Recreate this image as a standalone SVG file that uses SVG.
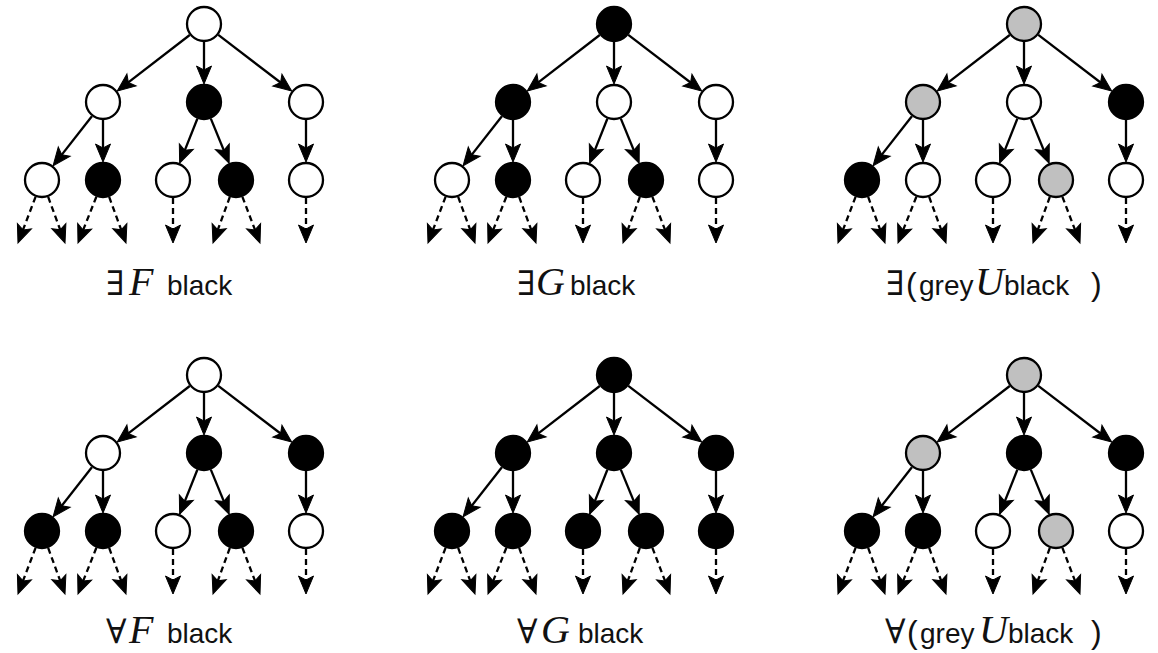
<svg xmlns="http://www.w3.org/2000/svg" xmlns:xlink="http://www.w3.org/1999/xlink" width="1158" height="653" viewBox="0 0 1158 653">
  <style>
    .node { stroke: #000; stroke-width: 2.3; }
    .w { fill: #fff; }
    .b { fill: #000; }
    .g { fill: #c0c0c0; }
    .solid { stroke: #000; stroke-width: 2.3; fill: none; marker-end: url(#head); }
    .dash { stroke: #000; stroke-width: 2.3; fill: none; stroke-dasharray: 6 4; marker-end: url(#head); }
    .q { font-family: "DejaVu Serif", "Liberation Serif", serif; font-size: 34px; }
    .m { font-family: "Liberation Serif", serif; font-style: italic; font-size: 40px; }
    .t { font-family: "Liberation Sans", Arial, sans-serif; font-size: 28px; }
    .p { font-family: "Liberation Sans", Arial, sans-serif; font-size: 32px; }
    .lbl { fill: #111; }
  </style>
  <defs>
    <marker id="head" markerUnits="userSpaceOnUse" viewBox="-22 -11 26 22" markerWidth="26" markerHeight="22" refX="-5" refY="0" orient="auto" overflow="visible">
      <path d="M0,0 L-18,-7.5 L-14,0 L-18,7.5 Z" fill="#000" stroke="#000" stroke-width="1" stroke-linejoin="miter"/>
    </marker>
    <!-- connectors shared by every tree: three solid levels, then dashed continuations -->
    <g id="tree-edges">
      <line class="solid" x1="189.75" y1="35" x2="121.21" y2="87.94"/>
      <line class="solid" x1="204" y1="42" x2="204" y2="79"/>
      <line class="solid" x1="218.3" y1="34.94" x2="287.73" y2="88.02"/>
      <line class="solid" x1="91.91" y1="116.18" x2="56.17" y2="161.88"/>
      <line class="solid" x1="103" y1="120" x2="103" y2="157"/>
      <line class="solid" x1="197.35" y1="118.73" x2="181.5" y2="158.62"/>
      <line class="solid" x1="210.83" y1="118.65" x2="227.27" y2="158.72"/>
      <line class="solid" x1="306" y1="120" x2="306" y2="157"/>
      <line class="dash" x1="35.59" y1="196.82" x2="19.78" y2="238.33"/>
      <line class="dash" x1="48.17" y1="196.91" x2="63.29" y2="238.3"/>
      <line class="dash" x1="96.36" y1="196.73" x2="79.84" y2="238.35"/>
      <line class="dash" x1="109.17" y1="196.91" x2="124.29" y2="238.3"/>
      <line class="dash" x1="173" y1="198" x2="173" y2="238"/>
      <line class="dash" x1="229.83" y1="196.91" x2="214.71" y2="238.3"/>
      <line class="dash" x1="242.41" y1="196.82" x2="258.22" y2="238.33"/>
      <line class="dash" x1="306" y1="198" x2="306" y2="238"/>
    </g>
  </defs>

  <!-- EF black -->
  <g id="tree-ef">
    <g id="ef-edges"><use xlink:href="#tree-edges" href="#tree-edges"/></g>
    <g id="ef-r"><circle class="node w" cx="204" cy="24" r="17"/></g>
    <g id="ef-a"><circle class="node w" cx="103" cy="102" r="17"/></g>
    <g id="ef-b"><circle class="node b" cx="204" cy="102" r="17"/></g>
    <g id="ef-c"><circle class="node w" cx="306" cy="102" r="17"/></g>
    <g id="ef-d"><circle class="node w" cx="42" cy="180" r="17"/></g>
    <g id="ef-e"><circle class="node b" cx="103" cy="180" r="17"/></g>
    <g id="ef-f"><circle class="node w" cx="173" cy="180" r="17"/></g>
    <g id="ef-g"><circle class="node b" cx="236" cy="180" r="17"/></g>
    <g id="ef-h"><circle class="node w" cx="306" cy="180" r="17"/></g>
    <text class="lbl" y="295"><tspan class="q" x="106">∃</tspan><tspan class="m" x="129">F</tspan><tspan class="t" x="167">black</tspan></text>
  </g>

  <!-- EG black -->
  <g id="tree-eg" transform="translate(410,0)">
    <g id="eg-edges"><use xlink:href="#tree-edges" href="#tree-edges"/></g>
    <g id="eg-r"><circle class="node b" cx="204" cy="24" r="17"/></g>
    <g id="eg-a"><circle class="node b" cx="103" cy="102" r="17"/></g>
    <g id="eg-b"><circle class="node w" cx="204" cy="102" r="17"/></g>
    <g id="eg-c"><circle class="node w" cx="306" cy="102" r="17"/></g>
    <g id="eg-d"><circle class="node w" cx="42" cy="180" r="17"/></g>
    <g id="eg-e"><circle class="node b" cx="103" cy="180" r="17"/></g>
    <g id="eg-f"><circle class="node w" cx="173" cy="180" r="17"/></g>
    <g id="eg-g"><circle class="node b" cx="236" cy="180" r="17"/></g>
    <g id="eg-h"><circle class="node w" cx="306" cy="180" r="17"/></g>
    <text class="lbl" y="295"><tspan class="q" x="107">∃</tspan><tspan class="m" x="126" font-size="34">G</tspan><tspan class="t" x="160">black</tspan></text>
  </g>

  <!-- E(grey U black) -->
  <g id="tree-eu" transform="translate(820,0)">
    <g id="eu-edges"><use xlink:href="#tree-edges" href="#tree-edges"/></g>
    <g id="eu-r"><circle class="node g" cx="204" cy="24" r="17"/></g>
    <g id="eu-a"><circle class="node g" cx="103" cy="102" r="17"/></g>
    <g id="eu-b"><circle class="node w" cx="204" cy="102" r="17"/></g>
    <g id="eu-c"><circle class="node b" cx="306" cy="102" r="17"/></g>
    <g id="eu-d"><circle class="node b" cx="42" cy="180" r="17"/></g>
    <g id="eu-e"><circle class="node w" cx="103" cy="180" r="17"/></g>
    <g id="eu-f"><circle class="node w" cx="173" cy="180" r="17"/></g>
    <g id="eu-g"><circle class="node g" cx="236" cy="180" r="17"/></g>
    <g id="eu-h"><circle class="node w" cx="306" cy="180" r="17"/></g>
    <text class="lbl" y="295"><tspan class="q" x="66">∃</tspan><tspan class="p" x="86">(</tspan><tspan class="t" x="99" font-size="26">grey</tspan><tspan class="m" x="155">U</tspan><tspan class="t" x="184" font-size="27">black</tspan><tspan class="p" x="271">)</tspan></text>
  </g>

  <!-- AF black -->
  <g id="tree-af" transform="translate(0,351)">
    <g id="af-edges"><use xlink:href="#tree-edges" href="#tree-edges"/></g>
    <g id="af-r"><circle class="node w" cx="204" cy="24" r="17"/></g>
    <g id="af-a"><circle class="node w" cx="103" cy="102" r="17"/></g>
    <g id="af-b"><circle class="node b" cx="204" cy="102" r="17"/></g>
    <g id="af-c"><circle class="node b" cx="306" cy="102" r="17"/></g>
    <g id="af-d"><circle class="node b" cx="42" cy="180" r="17"/></g>
    <g id="af-e"><circle class="node b" cx="103" cy="180" r="17"/></g>
    <g id="af-f"><circle class="node w" cx="173" cy="180" r="17"/></g>
    <g id="af-g"><circle class="node b" cx="236" cy="180" r="17"/></g>
    <g id="af-h"><circle class="node w" cx="306" cy="180" r="17"/></g>
    <text class="lbl" y="292"><tspan class="q" x="106">∀</tspan><tspan class="m" x="129">F</tspan><tspan class="t" x="167">black</tspan></text>
  </g>

  <!-- AG black -->
  <g id="tree-ag" transform="translate(410,351)">
    <g id="ag-edges"><use xlink:href="#tree-edges" href="#tree-edges"/></g>
    <g id="ag-r"><circle class="node b" cx="204" cy="24" r="17"/></g>
    <g id="ag-a"><circle class="node b" cx="103" cy="102" r="17"/></g>
    <g id="ag-b"><circle class="node b" cx="204" cy="102" r="17"/></g>
    <g id="ag-c"><circle class="node b" cx="306" cy="102" r="17"/></g>
    <g id="ag-d"><circle class="node b" cx="42" cy="180" r="17"/></g>
    <g id="ag-e"><circle class="node b" cx="103" cy="180" r="17"/></g>
    <g id="ag-f"><circle class="node b" cx="173" cy="180" r="17"/></g>
    <g id="ag-g"><circle class="node b" cx="236" cy="180" r="17"/></g>
    <g id="ag-h"><circle class="node b" cx="306" cy="180" r="17"/></g>
    <text class="lbl" y="292"><tspan class="q" x="107">∀</tspan><tspan class="m" x="131">G</tspan><tspan class="t" x="168">black</tspan></text>
  </g>

  <!-- A(grey U black) -->
  <g id="tree-au" transform="translate(820,351)">
    <g id="au-edges"><use xlink:href="#tree-edges" href="#tree-edges"/></g>
    <g id="au-r"><circle class="node g" cx="204" cy="24" r="17"/></g>
    <g id="au-a"><circle class="node g" cx="103" cy="102" r="17"/></g>
    <g id="au-b"><circle class="node b" cx="204" cy="102" r="17"/></g>
    <g id="au-c"><circle class="node b" cx="306" cy="102" r="17"/></g>
    <g id="au-d"><circle class="node b" cx="42" cy="180" r="17"/></g>
    <g id="au-e"><circle class="node b" cx="103" cy="180" r="17"/></g>
    <g id="au-f"><circle class="node w" cx="173" cy="180" r="17"/></g>
    <g id="au-g"><circle class="node g" cx="236" cy="180" r="17"/></g>
    <g id="au-h"><circle class="node w" cx="306" cy="180" r="17"/></g>
    <text class="lbl" y="292"><tspan class="q" x="65">∀</tspan><tspan class="p" x="87">(</tspan><tspan class="t" x="100" font-size="26">grey</tspan><tspan class="m" x="159">U</tspan><tspan class="t" x="188" font-size="31">black</tspan><tspan class="p" x="271">)</tspan></text>
  </g>
</svg>
